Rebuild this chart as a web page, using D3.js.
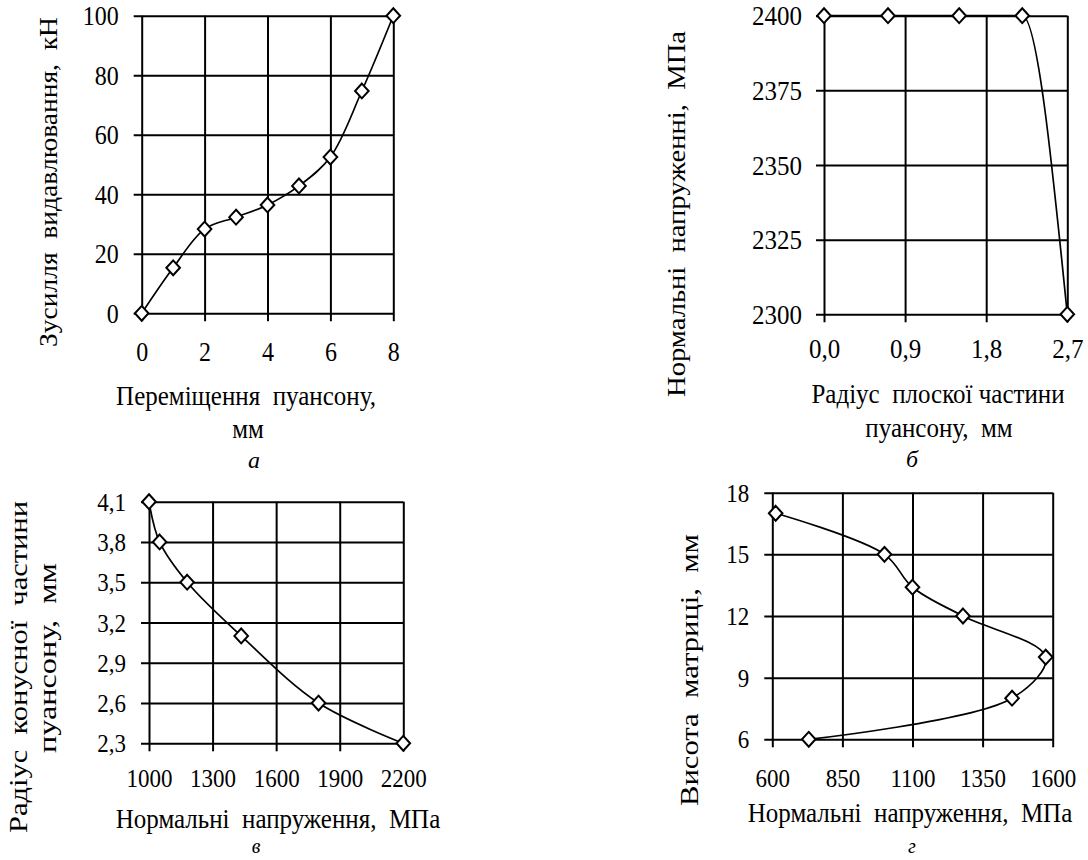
<!DOCTYPE html>
<html>
<head>
<meta charset="utf-8">
<script src="https://cdn.jsdelivr.net/npm/d3@7"></script>
<style>
  html, body { margin: 0; padding: 0; background: #fff; }
  svg { display: block; }
</style>
</head>
<body>
<svg id="chart" width="1088" height="860"></svg>
<script>
// ---- Panel а ----
const aX = [0, 1, 2, 3, 4, 5, 6, 7, 8];
const aY = [0, 15.3, 28.3, 32.3, 36.4, 42.8, 52.5, 74.7, 100];
const aXTicks = [0, 2, 4, 6, 8];
const aYTicks = [0, 20, 40, 60, 80, 100];

// ---- Panel б ----
const bX = [0, 0.71, 1.5, 2.2, 2.7];
const bY = [2400, 2400, 2400, 2400, 2300];
const bXTicks = [0, 0.9, 1.8, 2.7];
const bYTicks = [2300, 2325, 2350, 2375, 2400];

// ---- Panel в ----
const vX = [1000, 1050, 1180, 1435, 1800, 2200];
const vY = [4.1, 3.8, 3.5, 3.1, 2.6, 2.3];
const vXTicks = [1000, 1300, 1600, 1900, 2200];
const vYTicks = [2.3, 2.6, 2.9, 3.2, 3.5, 3.8, 4.1];

// ---- Panel г ----
const gX = [612, 1000, 1100, 1280, 1575, 1455, 730];
const gY = [17, 15, 13.4, 12, 10, 8, 6];
const gXTicks = [600, 850, 1100, 1350, 1600];
const gYTicks = [6, 9, 12, 15, 18];

const FONT = '"Liberation Serif", "Times New Roman", Times, serif';
const SY = 1.12; // vertical stretch of horizontal text, as in the reference
const comma1 = v => d3.format(".1f")(v).replace(".", ",");

const svg = d3.select("#chart");

function panel(cfg) {
  const { xs, ys, xTicks, yTicks, xFmt, yFmt, curve } = cfg;
  const [x0, x1] = xs.range();
  const [y0, y1] = ys.range(); // y0 bottom, y1 top
  const w = x1 - x0, h = y0 - y1;
  const tf = cfg.tickFont;
  const g = svg.append("g");

  // left axis with full-width grid lines (8px tick outside)
  const ya = g.append("g")
    .attr("transform", `translate(${x0 - 8},0)`)
    .call(d3.axisLeft(ys).tickValues(yTicks).tickSize(-(w + 8)).tickSizeOuter(0)
      .tickPadding(cfg.yPad).tickFormat(yFmt));
  ya.attr("font-family", null).attr("font-size", null);
  ya.select(".domain").remove();
  ya.selectAll(".tick line").attr("stroke", "#000").attr("stroke-width", 2);
  ya.selectAll(".tick text").style("font-family", FONT).style("font-size", tf + "px")
    .attr("fill", "#000").attr("dy", "0.33em").attr("transform", `scale(1,${SY})`);

  // bottom axis with full-height grid lines
  const axisY = y0 + 8;
  const xa = g.append("g")
    .attr("transform", `translate(0,${axisY})`)
    .call(d3.axisBottom(xs).tickValues(xTicks).tickSize(-(h + 8)).tickSizeOuter(0)
      .tickFormat(xFmt));
  xa.attr("font-family", null).attr("font-size", null);
  xa.select(".domain").remove();
  xa.selectAll(".tick line").attr("stroke", "#000").attr("stroke-width", 2);
  xa.selectAll(".tick text").style("font-family", FONT).style("font-size", tf + "px")
    .attr("fill", "#000").attr("dy", 0)
    .attr("y", (cfg.xBase - axisY) / SY).attr("transform", `scale(1,${SY})`);

  const pts = cfg.xv.map((v, i) => [v, cfg.yv[i]]);
  g.append("path")
    .datum(pts)
    .attr("fill", "none")
    .attr("stroke", "#000")
    .attr("stroke-width", 1.7)
    .attr("d", d3.line().x(d => xs(d[0])).y(d => ys(d[1])).curve(curve));

  const rx = 6.8, ry = 7.4;
  g.selectAll("path.mk").data(pts).join("path")
    .attr("class", "mk")
    .attr("d", d => {
      const px = xs(d[0]), py = ys(d[1]);
      return `M${px},${py - ry}L${px + rx},${py}L${px},${py + ry}L${px - rx},${py}Z`;
    })
    .attr("fill", "#fff").attr("stroke", "#000").attr("stroke-width", 2);

  // x title lines
  cfg.xTitle.forEach(t => {
    g.append("text").attr("transform", `translate(${t[1]},${t[2]}) scale(1,${SY})`)
      .attr("text-anchor", "middle")
      .style("font-family", FONT).style("font-size", "25px").style("white-space", "pre")
      .text(t[0]);
  });
  // y title lines (rotated); text stretched along its length as in the reference
  cfg.yTitle.forEach(t => {
    g.append("text").attr("transform", `translate(${t[1]},${t[2]}) rotate(-90)`)
      .attr("text-anchor", "middle")
      .attr("textLength", t[3]).attr("lengthAdjust", "spacingAndGlyphs")
      .style("font-family", FONT).style("font-size", "25px").style("white-space", "pre")
      .text(t[0]);
  });
  // caption
  g.append("text").attr("x", cfg.cap[1]).attr("y", cfg.cap[2])
    .attr("text-anchor", "middle")
    .style("font-family", FONT).style("font-size", cfg.cap[3] + "px").style("font-style", "italic")
    .text(cfg.cap[0]);
}

panel({
  xs: d3.scaleLinear().domain([0, 8]).range([141.7, 393.3]),
  ys: d3.scaleLinear().domain([0, 100]).range([313.3, 15.7]),
  xTicks: aXTicks, yTicks: aYTicks,
  xFmt: d3.format("d"), yFmt: d3.format("d"),
  xv: aX, yv: aY, curve: d3.curveCatmullRom,
  tickFont: 24, xBase: 361, yPad: 15,
  xTitle: [["Переміщення  пуансону,", 246, 405], ["мм", 248, 438]],
  yTitle: [["Зусилля  видавлювання,  кН", 57, 182, 330]],
  cap: ["а", 254, 468, 24]
});

panel({
  xs: d3.scaleLinear().domain([0, 2.7]).range([824, 1067.3]),
  ys: d3.scaleLinear().domain([2300, 2400]).range([314.3, 15.7]),
  xTicks: bXTicks, yTicks: bYTicks,
  xFmt: comma1, yFmt: d3.format("d"),
  xv: bX, yv: bY, curve: d3.curveMonotoneX,
  tickFont: 25, xBase: 358, yPad: 14,
  xTitle: [["Радіус  плоскої частини", 938, 403], ["пуансону,  мм", 939, 437]],
  yTitle: [["Нормальні  напруженні,  МПа", 685, 214, 366]],
  cap: ["б", 912, 467, 24]
});

panel({
  xs: d3.scaleLinear().domain([1000, 2200]).range([149, 403.3]),
  ys: d3.scaleLinear().domain([2.3, 4.1]).range([743.3, 501.7]),
  xTicks: vXTicks, yTicks: vYTicks,
  xFmt: d3.format("d"), yFmt: comma1,
  xv: vX, yv: vY, curve: d3.curveCatmullRom,
  tickFont: 23, xBase: 787, yPad: 15,
  xTitle: [["Нормальні  напруження,  МПа", 278, 828]],
  yTitle: [["Радіус  конусної  частини", 27, 667, 332], ["пуансону,  мм", 56, 658, 190]],
  cap: ["в", 256, 853, 20]
});

panel({
  xs: d3.scaleLinear().domain([600, 1600]).range([772.3, 1052.7]),
  ys: d3.scaleLinear().domain([6, 18]).range([739.3, 492.7]),
  xTicks: gXTicks, yTicks: gYTicks,
  xFmt: d3.format("d"), yFmt: d3.format("d"),
  xv: gX, yv: gY, curve: d3.curveCatmullRom,
  tickFont: 23, xBase: 787, yPad: 15,
  xTitle: [["Нормальні  напруження,  МПа", 910, 822]],
  yTitle: [["Висота  матриці,  мм", 698, 670, 272]],
  cap: ["г", 912, 853, 20]
});
</script>
</body>
</html>
